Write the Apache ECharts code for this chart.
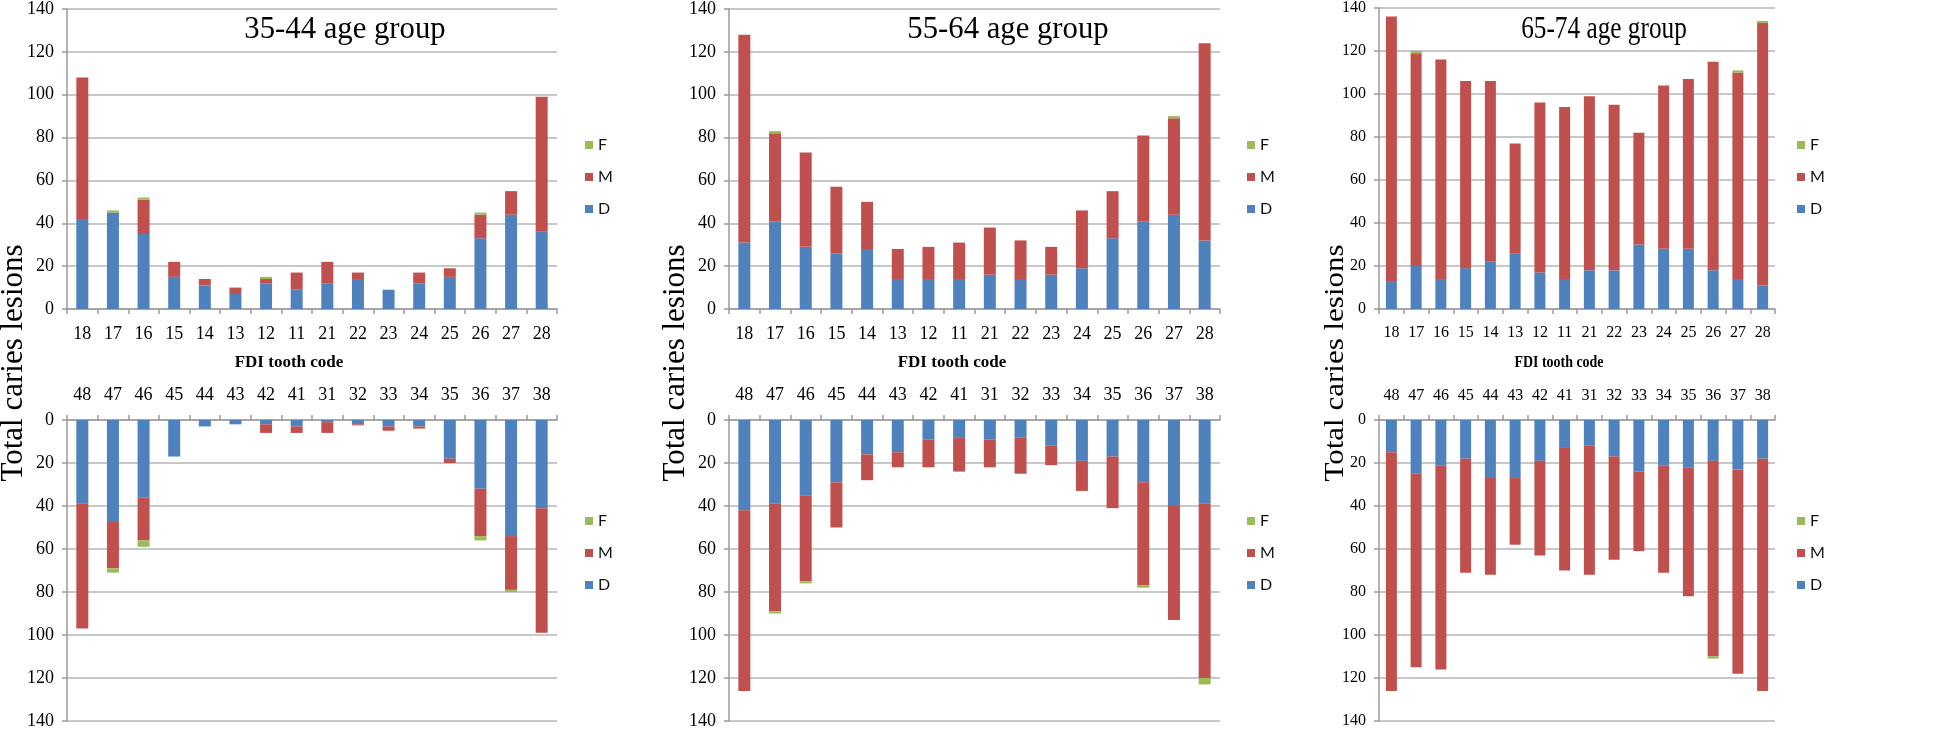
<!DOCTYPE html>
<html>
<head>
<meta charset="utf-8">
<script src="https://cdn.jsdelivr.net/npm/echarts@6/dist/echarts.min.js"></script>
<style>
html,body{margin:0;padding:0;background:#fff;}
#chart{width:1946px;height:730px;}
</style>
</head>
<body>
<div id="chart"></div>
<script>
// ---- data ----
var upperTeeth = ['18','17','16','15','14','13','12','11','21','22','23','24','25','26','27','28'];
var lowerTeeth = ['48','47','46','45','44','43','42','41','31','32','33','34','35','36','37','38'];
var yTicks = [0, 20, 40, 60, 80, 100, 120, 140];
var seriesNames = ['D', 'M', 'F'];
var legendOrder = ['F', 'M', 'D'];
var groupTitles = ['35-44 age group', '55-64 age group', '65-74 age group'];

var g35UpperD = [42,45,35,15,11,7,12,9,12,14,9,12,15,33,44,36];
var g35UpperM = [66,0,16,7,3,3,2,8,10,3,0,5,4,11,11,63];
var g35UpperF = [0,1,1,0,0,0,1,0,0,0,0,0,0,1,0,0];
var g35LowerD = [39,47,36,17,3,2,2,3,1,2,3,3,18,32,54,41];
var g35LowerM = [58,22,20,0,0,0,4,3,5,0.5,2,1,2,22,25,58];
var g35LowerF = [0,2,3,0,0,0,0,0,0,0,0,0,0,2,1,0];

var g55UpperD = [31,41,29,26,28,14,14,14,16,14,16,19,33,41,44,32];
var g55UpperM = [97,41,44,31,22,14,15,17,22,18,13,27,22,40,45,92];
var g55UpperF = [0,1,0,0,0,0,0,0,0,0,0,0,0,0,1,0];
var g55LowerD = [42,39,35,29,16,15,9,8,9,8,12,19,17,29,40,39];
var g55LowerM = [84,50,40,21,12,7,13,16,13,17,9,14,24,48,53,81];
var g55LowerF = [0,1,1,0,0,0,0,0,0,0,0,0,0,1,0,3];

var g65UpperD = [13,20,14,19,22,26,17,14,18,18,30,28,28,18,14,11];
var g65UpperM = [123,99,102,87,84,51,79,80,81,77,52,76,79,97,96,122];
var g65UpperF = [0,1,0,0,0,0,0,0,0,0,0,0,0,0,1,1];
var g65LowerD = [15,25,21,18,27,27,19,13,12,17,24,21,22,19,23,18];
var g65LowerM = [111,90,95,53,45,31,44,57,60,48,37,50,60,91,95,108];
var g65LowerF = [0,0,0,0,0,0,0,0,0,0,0,0,0,1,0,0];

// ---- layout ----
var colors = { D: '#4F81BD', M: '#C0504D', F: '#9BBB59' };
var serif = 'Liberation Serif';
var panels = [
  { left: 67,   width: 490, titleX: 345,  legendX: 585,  nameX: 14,   fdiX: 289,  barW: 12, sx: 0.96, fs: 18,
    up: [g35UpperD, g35UpperM, g35UpperF], low: [g35LowerD, g35LowerM, g35LowerF] },
  { left: 729,  width: 491, titleX: 1008, legendX: 1247, nameX: 676,  fdiX: 952,  barW: 12, sx: 0.96, fs: 18,
    up: [g55UpperD, g55UpperM, g55UpperF], low: [g55LowerD, g55LowerM, g55LowerF] },
  { left: 1379, width: 396, titleX: 1604, legendX: 1797, nameX: 1336, fdiX: 1559, barW: 11, sx: 0.79, fs: 16,
    up: [g65UpperD, g65UpperM, g65UpperF], low: [g65LowerD, g65LowerM, g65LowerF] }
];

var grids = [], xAxes = [], yAxes = [], series = [], legends = [], graphics = [];
var axisGray = '#9a9a9a', gridGray = '#b6b6b6';

panels.forEach(function (p, pi) {
  [0, 1].forEach(function (part) {
    var gi = pi * 2 + part;
    var lower = part === 1;
    grids.push({ left: p.left, width: p.width, top: lower ? 420 : 8, height: 301 });
    xAxes.push({
      type: 'category', gridIndex: gi, data: lower ? lowerTeeth : upperTeeth,
      position: lower ? 'top' : 'bottom',
      axisLine: { show: true, lineStyle: { color: axisGray, width: 1.5 } },
      axisTick: { show: true, interval: 0, length: 5, lineStyle: { color: axisGray, width: 1.5 } },
      axisLabel: { interval: 0, margin: 16, fontFamily: serif, fontSize: p.fs, color: '#000' },
      splitLine: { show: false }
    });
    yAxes.push({
      type: 'value', gridIndex: gi, min: yTicks[0], max: yTicks[yTicks.length - 1], interval: yTicks[1] - yTicks[0],
      inverse: lower,
      axisLine: { show: true, lineStyle: { color: axisGray, width: 1.5 } },
      axisTick: { show: true, length: 5, lineStyle: { color: axisGray, width: 1.5 } },
      axisLabel: { margin: 13, fontFamily: serif, fontSize: p.fs, color: '#000' },
      splitLine: { show: true, lineStyle: { color: gridGray, width: 1.5 } }
    });
    var vals = lower ? p.low : p.up;
    seriesNames.forEach(function (n, si) {
      series.push({
        name: n, type: 'bar', stack: 's' + gi, xAxisIndex: gi, yAxisIndex: gi,
        barWidth: p.barW, data: vals[si], itemStyle: { color: colors[n] },
        emphasis: { disabled: true }, animation: false
      });
    });
    legends.push({
      data: legendOrder, orient: 'vertical', left: p.legendX, top: lower ? 513 : 137,
      itemWidth: 8, itemHeight: 8, itemGap: 16, icon: 'rect', padding: 0,
      textStyle: { fontFamily: 'Lato', fontSize: 16, color: '#111' },
      selectedMode: false
    });
  });
  graphics.push({ type: 'text', x: p.titleX, y: 30, scaleX: p.sx,
    style: { text: groupTitles[pi], font: '32px "Liberation Serif"', fill: '#000',
      align: 'center', verticalAlign: 'middle', textAlign: 'center', textVerticalAlign: 'middle' } });
  graphics.push({ type: 'text', x: p.fdiX, y: 363, scaleX: p.sx > 0.9 ? 1 : 0.82,
    style: { text: 'FDI tooth code', font: 'bold 17px "Liberation Serif"', fill: '#000',
      align: 'center', verticalAlign: 'middle', textAlign: 'center', textVerticalAlign: 'middle' } });
  graphics.push({ type: 'text', x: p.nameX, y: 363, rotation: Math.PI / 2, scaleY: p.sx > 0.9 ? 1 : 0.85,
    style: { text: 'Total caries lesions', font: '31px "Liberation Serif"', fill: '#000',
      align: 'center', verticalAlign: 'middle', textAlign: 'center', textVerticalAlign: 'middle' } });
});

var chart = echarts.init(document.getElementById('chart'), null, { renderer: 'canvas' });
chart.setOption({
  animation: false,
  backgroundColor: '#fff',
  grid: grids, xAxis: xAxes, yAxis: yAxes, series: series, legend: legends, graphic: graphics
});
</script>
</body>
</html>
